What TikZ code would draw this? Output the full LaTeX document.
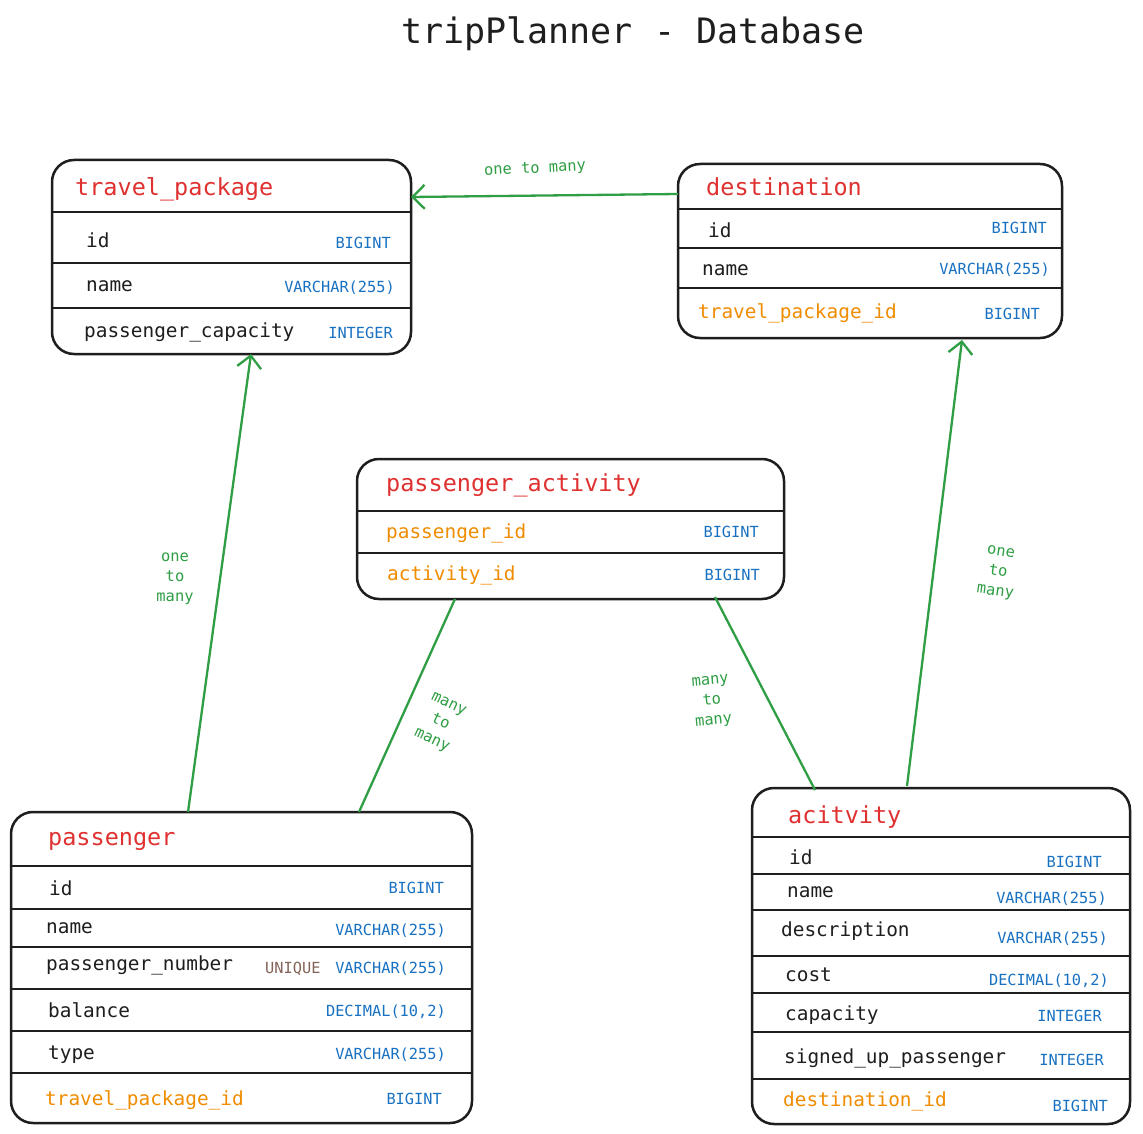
\documentclass[tikz,border=0pt]{standalone}
\usepackage{fontspec}
\setmonofont{DejaVu Sans Mono}
\usetikzlibrary{arrows.meta,calc}
\definecolor{ink}{HTML}{1E1E1E}
\definecolor{hred}{HTML}{E03131}
\definecolor{fkor}{HTML}{F08C00}
\definecolor{tblue}{HTML}{1971C2}
\definecolor{ubrown}{HTML}{846358}
\definecolor{rgreen}{HTML}{2F9E44}
\begin{document}
\begin{tikzpicture}[x=1pt,y=-1pt,
  tbl/.style={draw=ink, line width=2.5pt, rounded corners=22pt, inner sep=0pt, outer sep=0pt},
  div/.style={draw=ink, line width=2.8pt},
  title/.style={font=\ttfamily\fontsize{35}{40}\selectfont, text=ink},
  hdr/.style={font=\ttfamily\fontsize{23.5}{26}\selectfont, text=hred, anchor=west, inner sep=0pt},
  fld/.style={font=\ttfamily\fontsize{19.4}{22}\selectfont, text=ink, anchor=west, inner sep=0pt},
  fk/.style={font=\ttfamily\fontsize{19.4}{22}\selectfont, text=fkor, anchor=west, inner sep=0pt},
  typ/.style={font=\ttfamily\fontsize{15.3}{18}\selectfont, text=tblue, anchor=east, inner sep=0pt},
  uniq/.style={font=\ttfamily\fontsize{15.3}{18}\selectfont, text=ubrown, anchor=west, inner sep=0pt},
  rel/.style={draw=rgreen, line width=2.3pt},
  arr/.style={rel, -{Straight Barb[length=12pt,width=24pt,line width=2.3pt]}},
  lbl/.style={font=\ttfamily\fontsize{15.4}{20}\selectfont, text=rgreen, align=center, inner sep=0pt}
]
\useasboundingbox[fill=white] (0,0) rectangle (1143,1134);

\node[title] (ttl) at (633,34) {tripPlanner - Database};

% travel_package
\node[tbl, minimum width=359pt, minimum height=194pt] (tp) at (231.5,257) {};
\draw[div] ($(tp.north west)+(0,52)$) -- ($(tp.north east)+(0,52)$);
\draw[div] ($(tp.north west)+(0,103)$) -- ($(tp.north east)+(0,103)$);
\draw[div] ($(tp.north west)+(0,148)$) -- ($(tp.north east)+(0,148)$);
\node[hdr] (tpH) at (75,189) {travel\_package};
\node[fld] (tp1) at (86,240) {id};
\node[typ] (tp1t) at (391,243) {BIGINT};
\node[fld] (tp2) at (86,286) {name};
\node[typ] (tp2t) at (395,288) {VARCHAR(255)};
\node[fld] (tp3) at (84,332) {passenger\_capacity};
\node[typ] (tp3t) at (393,333) {INTEGER};

% destination
\node[tbl, minimum width=384pt, minimum height=174pt] (ds) at (870,251) {};
\draw[div] ($(ds.north west)+(0,45)$) -- ($(ds.north east)+(0,45)$);
\draw[div] ($(ds.north west)+(0,84)$) -- ($(ds.north east)+(0,84)$);
\draw[div] ($(ds.north west)+(0,124)$) -- ($(ds.north east)+(0,124)$);
\node[hdr] (dsH) at (706,187) {destination};
\node[fld] (ds1) at (708,230) {id};
\node[typ] (ds1t) at (1047,228) {BIGINT};
\node[fld] (ds2) at (702,270) {name};
\node[typ] (ds2t) at (1050,270) {VARCHAR(255)};
\node[fk] (ds3) at (698,313) {travel\_package\_id};
\node[typ] (ds3t) at (1040,314) {BIGINT};

% passenger_activity
\node[tbl, minimum width=427pt, minimum height=140pt] (pa) at (570.5,529) {};
\draw[div] ($(pa.north west)+(0,52)$) -- ($(pa.north east)+(0,52)$);
\draw[div] ($(pa.north west)+(0,94)$) -- ($(pa.north east)+(0,94)$);
\node[hdr] (paH) at (386,485) {passenger\_activity};
\node[fk] (pa1) at (386,533) {passenger\_id};
\node[typ] (pa1t) at (759,532) {BIGINT};
\node[fk] (pa2) at (387,575) {activity\_id};
\node[typ] (pa2t) at (760,575) {BIGINT};

% passenger
\node[tbl, minimum width=461pt, minimum height=311pt] (ps) at (241.5,967.5) {};
\draw[div] ($(ps.north west)+(0,54)$) -- ($(ps.north east)+(0,54)$);
\draw[div] ($(ps.north west)+(0,97)$) -- ($(ps.north east)+(0,97)$);
\draw[div] ($(ps.north west)+(0,135)$) -- ($(ps.north east)+(0,135)$);
\draw[div] ($(ps.north west)+(0,177)$) -- ($(ps.north east)+(0,177)$);
\draw[div] ($(ps.north west)+(0,219)$) -- ($(ps.north east)+(0,219)$);
\draw[div] ($(ps.north west)+(0,261)$) -- ($(ps.north east)+(0,261)$);
\node[hdr] (psH) at (48,841) {passenger};
\node[fld] (ps1) at (49,888) {id};
\node[typ] (ps1t) at (444,888) {BIGINT};
\node[fld] (ps2) at (46,928) {name};
\node[typ] (ps2t) at (446,931) {VARCHAR(255)};
\node[fld] (ps3) at (46,965) {passenger\_number};
\node[uniq] (ps3u) at (265,969) {UNIQUE};
\node[typ] (ps3t) at (446,969) {VARCHAR(255)};
\node[fld] (ps4) at (48,1010) {balance};
\node[typ] (ps4t) at (446,1012) {DECIMAL(10,2)};
\node[fld] (ps5) at (48,1055) {type};
\node[typ] (ps5t) at (446,1055) {VARCHAR(255)};
\node[fk] (ps6) at (45,1100) {travel\_package\_id};
\node[typ] (ps6t) at (442,1099) {BIGINT};

% acitvity
\node[tbl, minimum width=378pt, minimum height=336pt] (ac) at (941,956) {};
\draw[div] ($(ac.north west)+(0,49)$) -- ($(ac.north east)+(0,49)$);
\draw[div] ($(ac.north west)+(0,86)$) -- ($(ac.north east)+(0,86)$);
\draw[div] ($(ac.north west)+(0,122)$) -- ($(ac.north east)+(0,122)$);
\draw[div] ($(ac.north west)+(0,168)$) -- ($(ac.north east)+(0,168)$);
\draw[div] ($(ac.north west)+(0,205)$) -- ($(ac.north east)+(0,205)$);
\draw[div] ($(ac.north west)+(0,244)$) -- ($(ac.north east)+(0,244)$);
\draw[div] ($(ac.north west)+(0,291)$) -- ($(ac.north east)+(0,291)$);
\node[hdr] (acH) at (788,817) {acitvity};
\node[fld] (ac1) at (789,857) {id};
\node[typ] (ac1t) at (1102,862) {BIGINT};
\node[fld] (ac2) at (787,892) {name};
\node[typ] (ac2t) at (1107,899) {VARCHAR(255)};
\node[fld] (ac3) at (781,931) {description};
\node[typ] (ac3t) at (1108,939) {VARCHAR(255)};
\node[fld] (ac4) at (785,975) {cost};
\node[typ] (ac4t) at (1109,981) {DECIMAL(10,2)};
\node[fld] (ac5) at (785,1015) {capacity};
\node[typ] (ac5t) at (1102,1016) {INTEGER};
\node[fld] (ac6) at (784,1058) {signed\_up\_passenger};
\node[typ] (ac6t) at (1104,1060) {INTEGER};
\node[fk] (ac7) at (783,1101) {destination\_id};
\node[typ] (ac7t) at (1108,1106) {BIGINT};

% relations
\draw[arr] ($(ds.north west)+(0,30)$) -- ($(tp.north east)+(0,37)$);
\node[lbl, rotate=3] (l1) at (535,169) {one to many};

\draw[arr] ($(ps.north west)+(177,0)$) -- ($(tp.south west)+(199,0)$);
\node[lbl] (l2) at (175,579) {one\\to\\many};

\draw[rel] ($(pa.south west)+(98,0)$) -- ($(ps.north west)+(348,0)$);
\node[lbl, rotate=-25] (l3) at (440,723) {many\\to\\many};

\draw[rel] ($(pa.south west)+(358,-2)$) -- ($(ac.north west)+(63,2)$);
\node[lbl, rotate=5] (l4) at (712,702) {many\\to\\many};

\draw[arr] ($(ac.north west)+(155,-2)$) -- ($(ds.south west)+(284,2)$);
\node[lbl, rotate=-8] (l5) at (998,573) {one\\to\\many};
\end{tikzpicture}
\end{document}
